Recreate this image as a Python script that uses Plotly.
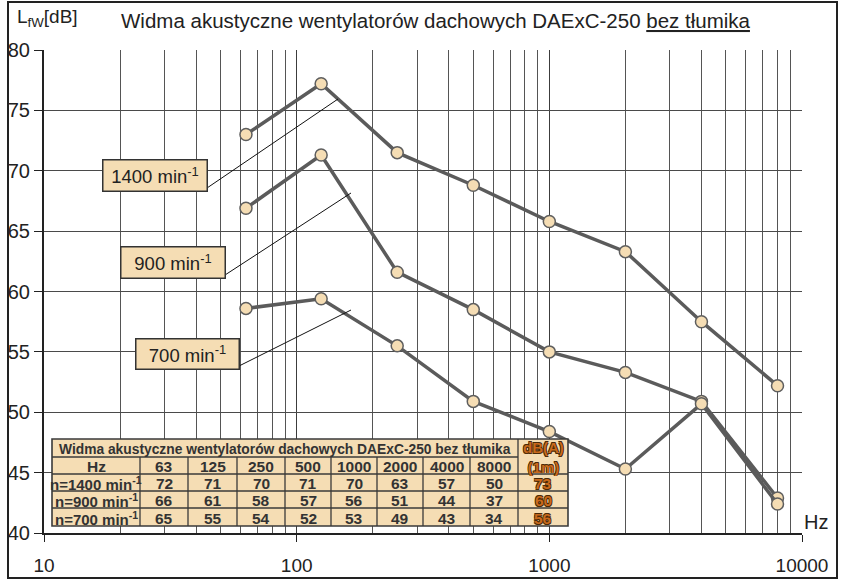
import plotly.graph_objects as go

# ---------------- data ----------------
freqs = [63, 125, 250, 500, 1000, 2000, 4000, 8000]
lw_1400 = [73.0, 77.2, 71.5, 68.8, 65.8, 63.3, 57.5, 52.2]
lw_900 = [66.9, 71.3, 61.6, 58.5, 55.0, 53.3, 50.9, 42.9]
lw_700 = [58.6, 59.4, 55.5, 50.9, 48.4, 45.3, 50.7, 42.4]

series_names = ["1400 min<sup>-1</sup>", "900 min<sup>-1</sup>", "700 min<sup>-1</sup>"]

x_tick_vals = [10, 100, 1000, 10000]
x_tick_text = ["10", "100", "1000", "10000"]
x_minor_vals = [m * d for d in (10, 100, 1000) for m in range(2, 10)]
y_tick_vals = [40, 45, 50, 55, 60, 65, 70, 75, 80]

table_title = "Widma akustyczne wentylatorów dachowych DAExC-250 bez tłumika"
table_hz = ["63", "125", "250", "500", "1000", "2000", "4000", "8000"]
table_rows = ["n=1400 min<sup>-1</sup>", "n=900 min<sup>-1</sup>", "n=700 min<sup>-1</sup>"]
table_1400 = [72, 71, 70, 71, 70, 63, 57, 50]
table_900 = [66, 61, 58, 57, 56, 51, 44, 37]
table_700 = [65, 55, 54, 52, 53, 49, 43, 34]
table_dba = [73, 60, 56]

# ---------------- layout helpers ----------------
W, H = 847, 581
L, R, T, B = 44, 802, 50, 533
FONT = "Liberation Sans, Arial, sans-serif"
WHEAT = "#F5DDB4"
DARK = "#333333"


def px(x):
    return (x - L) / (R - L)


def py(y):
    return (B - y) / (B - T)


fig = go.Figure()

line_col = "#5b5b5b"
for name, vals in zip(series_names, [lw_1400, lw_900, lw_700]):
    fig.add_trace(go.Scatter(
        x=freqs, y=vals, mode="lines+markers", name=name,
        line=dict(color=line_col, width=3.5),
        marker=dict(size=12, color=WHEAT, line=dict(color="#5e5e5e", width=1.5)),
        showlegend=False,
    ))

shapes = []
annotations = []

# outer frame
shapes.append(dict(type="rect", xref="paper", yref="paper",
                   x0=px(8), x1=px(837), y0=py(2), y1=py(578),
                   line=dict(color="#222", width=2), layer="above"))

# label boxes with leader lines
boxes = [
    # (x0, y0, x1, y1, line end x, line end y)
    (102, 159, 207, 191, 338, 99),
    (120, 246, 225, 278, 351, 193),
    (135, 338, 239, 369, 351, 310),
]
for (bx0, by0, bx1, by1, lx, ly), name in zip(boxes, series_names):
    shapes.append(dict(type="line", xref="paper", yref="paper",
                       x0=px(bx1), y0=py(by1 - 3), x1=px(lx), y1=py(ly),
                       line=dict(color="#111", width=1), layer="above"))
    annotations.append(dict(
        xref="paper", yref="paper", x=px((bx0 + bx1) / 2), y=py((by0 + by1) / 2),
        text=name, showarrow=False, xanchor="center", yanchor="middle",
        width=bx1 - bx0 - 4, height=by1 - by0 - 4, borderpad=1,
        bgcolor=WHEAT, bordercolor=DARK, borderwidth=1.5,
        font=dict(family=FONT, size=18.5, color="#222"),
    ))

# ---------------- table ----------------
cols = [52, 140, 188, 237, 285, 331, 377, 423, 470, 518, 568]
rows = [439, 457, 474, 491, 508, 526]
tline = dict(color="#3a3a3a", width=1.3)
shapes.append(dict(type="rect", xref="paper", yref="paper",
                   x0=px(cols[0]), x1=px(cols[-1]), y0=py(rows[0]), y1=py(rows[-1]),
                   fillcolor=WHEAT, line=dict(color="#3a3a3a", width=1.6), layer="above"))
# horizontal lines
shapes.append(dict(type="line", xref="paper", yref="paper",
                   x0=px(cols[0]), x1=px(cols[9]), y0=py(rows[1]), y1=py(rows[1]),
                   line=tline, layer="above"))
for r in rows[2:5]:
    shapes.append(dict(type="line", xref="paper", yref="paper",
                       x0=px(cols[0]), x1=px(cols[-1]), y0=py(r), y1=py(r),
                       line=tline, layer="above"))
# vertical lines
for c in cols[1:9]:
    shapes.append(dict(type="line", xref="paper", yref="paper",
                       x0=px(c), x1=px(c), y0=py(rows[1]), y1=py(rows[-1]),
                       line=tline, layer="above"))
shapes.append(dict(type="line", xref="paper", yref="paper",
                   x0=px(cols[9]), x1=px(cols[9]), y0=py(rows[0]), y1=py(rows[-1]),
                   line=tline, layer="above"))


def cell_text(x, y, text, size=15, color=DARK, shadow=None):
    f = dict(family=FONT, size=size, color=color, weight="bold")
    if shadow:
        f["shadow"] = shadow
    annotations.append(dict(xref="paper", yref="paper", x=px(x), y=py(y),
                            text=text, showarrow=False, xanchor="center",
                            yanchor="middle", font=f))


cell_text((cols[0] + cols[9]) / 2, (rows[0] + rows[1]) / 2 + 1, table_title, size=13.8)
cell_text((cols[0] + cols[1]) / 2, (rows[1] + rows[2]) / 2 + 1, "Hz", size=15.5)
for i, h in enumerate(table_hz):
    cell_text((cols[i + 1] + cols[i + 2]) / 2, (rows[1] + rows[2]) / 2 + 1, h, size=15.5)
for j, (lab, vals) in enumerate(zip(table_rows, [table_1400, table_900, table_700])):
    yc = (rows[2 + j] + rows[3 + j]) / 2 + 1
    cell_text((cols[0] + cols[1]) / 2, yc, lab, size=15)
    for i, v in enumerate(vals):
        cell_text((cols[i + 1] + cols[i + 2]) / 2, yc, str(v), size=15.5)

ORANGE = "#C9691C"
outline = ("-0.7px -0.7px 0 #4a2a08, 0.7px -0.7px 0 #4a2a08, "
           "-0.7px 0.7px 0 #4a2a08, 0.7px 0.7px 0 #4a2a08")
cell_text((cols[9] + cols[10]) / 2, (rows[0] + rows[2]) / 2 + 1, "dB(A)<br>(1m)",
          size=15, color=ORANGE, shadow=outline)
for j, v in enumerate(table_dba):
    cell_text((cols[9] + cols[10]) / 2, (rows[2 + j] + rows[3 + j]) / 2 + 1, str(v),
              size=15.5, color=ORANGE, shadow=outline)

# ---------------- other texts ----------------
annotations.append(dict(xref="paper", yref="paper", x=px(436), y=py(21),
                        text="Widma akustyczne wentylatorów dachowych DAExC-250 <u>bez tłumika</u>",
                        showarrow=False, xanchor="center", yanchor="middle",
                        font=dict(family=FONT, size=20.5, color="#222")))
annotations.append(dict(xref="paper", yref="paper", x=px(15), y=py(18),
                        text="L<sub>fW</sub>[dB]", showarrow=False,
                        xanchor="left", yanchor="middle",
                        font=dict(family=FONT, size=19, color="#222")))
annotations.append(dict(xref="paper", yref="paper", x=px(816), y=py(522),
                        text="Hz", showarrow=False, xanchor="center", yanchor="middle",
                        font=dict(family=FONT, size=20, color="#222")))

fig.update_layout(
    width=W, height=H,
    margin=dict(l=L, r=W - R, t=T, b=H - B, pad=0, autoexpand=False),
    paper_bgcolor="white", plot_bgcolor="white",
    font=dict(family=FONT, size=17, color="#222"),
    shapes=shapes, annotations=annotations,
    xaxis=dict(type="log", range=[1, 4], tickvals=x_tick_vals, ticktext=x_tick_text,
               ticks="outside", ticklen=7, tickcolor="#222", tickwidth=1,
               showline=True, linecolor="#222", linewidth=2,
               showgrid=True, gridcolor="#3c3c3c", gridwidth=1,
               ticklabelstandoff=7, automargin=False,
               minor=dict(tickvals=x_minor_vals, showgrid=True, gridcolor="#555555",
                          gridwidth=1, ticks=""),
               tickfont=dict(size=19), zeroline=False),
    yaxis=dict(range=[40, 80], tickvals=y_tick_vals, automargin=False,
               ticks="outside", ticklen=8, tickcolor="#222", tickwidth=1,
               showline=True, linecolor="#222", linewidth=2,
               showgrid=True, gridcolor="#4a4a4a", gridwidth=1,
               tickfont=dict(size=20), zeroline=False),
)

fig.write_html("out.html",
               config={"displayModeBar": False},
               post_script="document.body.style.margin='0';"
                           "document.body.style.overflow='hidden';")
